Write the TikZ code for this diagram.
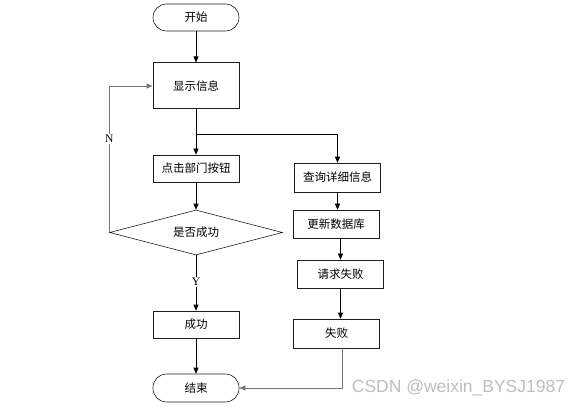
\documentclass[tikz,border=0pt]{standalone}
\usepackage{fontspec}
\setmainfont{Liberation Serif}
\newfontfamily\cjkfont{Noto Sans CJK SC}
\newfontfamily\markfont{Liberation Sans}
\usepackage{tikz}
\usetikzlibrary{arrows.meta, shapes.geometric}
\definecolor{bordegris}{RGB}{30, 30, 30}
\definecolor{lineagris}{RGB}{120, 120, 120}
\definecolor{marcagris}{RGB}{190, 190, 190}

\tikzset{
  caja/.style={draw=bordegris, line width=0.6pt, minimum width=86pt, minimum height=27pt, inner sep=0pt, font=\cjkfont\fontsize{11.5}{13}\selectfont},
  terminal/.style={caja, rounded corners=13.5pt},
  rombo/.style={diamond, draw=bordegris, line width=0.6pt, aspect=4, minimum width=173pt, minimum height=45pt, inner sep=0pt, font=\cjkfont\fontsize{11.5}{13}\selectfont},
  flecha/.style={draw=black, line width=0.6pt, -{Triangle[length=6pt, width=5pt]}},
  flechagris/.style={flecha, draw=lineagris},
  etiqueta/.style={fill=white, inner sep=1pt, font=\fontsize{11.5}{13}\selectfont},
}

\begin{document}
\begin{tikzpicture}[x=1pt, y=-1pt]
  \useasboundingbox (0,0) rectangle (587,409);
  % Columna principal
  \node[terminal] (inicio) at (196,17.5) {开始};
  \node[caja, line width=1pt, minimum height=46pt] (mostrar) at (196,86) {显示信息};
  \node[caja] (clic) at (196,168.5) {点击部门按钮};
  \node[rombo] (decision) at (196,232.5) {是否成功};
  \node[caja] (exito) at (196,324.5) {成功};
  \node[terminal, minimum height=28pt] (fin) at (196,388) {结束};
  % Columna derecha
  \node[caja, minimum height=29pt] (consulta) at (337.5,177.5) {查询详细信息};
  \node[caja, minimum height=28pt] (actualizar) at (336,224) {更新数据库};
  \node[caja, minimum height=28pt] (solicitud) at (340.5,274) {请求失败};
  \node[caja, minimum height=29pt] (fallo) at (336.5,333.5) {失败};
  \coordinate (rama) at (196,134);
  % Conectores
  \draw[flecha] (inicio) -- (mostrar);
  \draw[flecha] (mostrar) -- (clic);
  \draw[flecha] (rama) -| (consulta.north);
  \draw[flecha] (clic) -- (decision);
  \draw[flecha] (decision) -- node[etiqueta, pos=0.48] {Y} (exito);
  \draw[flecha] (exito) -- (fin);
  \draw[flechagris] (decision.west) |- node[etiqueta, pos=0.32] {N} (mostrar.west);
  \draw[flecha] (consulta.south) -- (consulta.south |- actualizar.north);
  \draw[flecha] (actualizar.south -| solicitud.north) -- (solicitud.north);
  \draw[flecha] (solicitud.south) -- (solicitud.south |- fallo.north);
  \draw[flechagris] ([xshift=5.5pt]fallo.south) |- (fin.east);
  % Marca de agua
  \node[text=marcagris, font=\markfont\fontsize{17.5}{20}\selectfont, inner sep=0pt] (marca) at (458.5,388) {CSDN @weixin\_BYSJ1987};
\end{tikzpicture}
\end{document}
